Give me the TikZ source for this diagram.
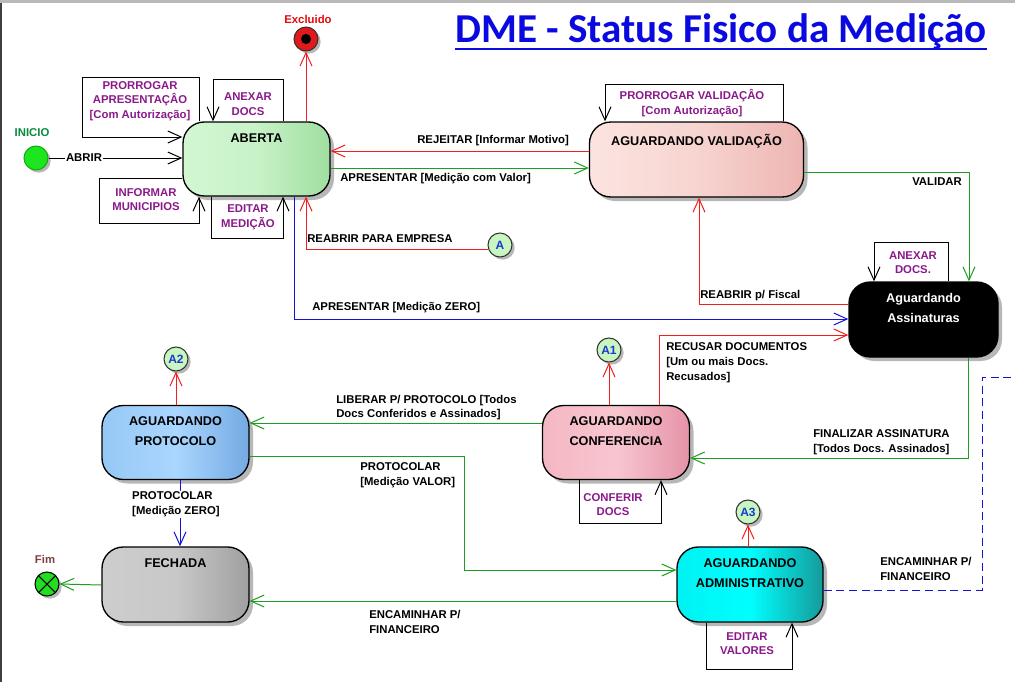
\documentclass[tikz,border=0pt]{standalone}
\usepackage{fontspec}
\setmainfont{Liberation Sans}
\newfontfamily\titlefont{Carlito}
\usetikzlibrary{arrows.meta,shadows,calc}
\definecolor{lgreen}{HTML}{1E9E1E}
\definecolor{lred}{HTML}{F21E1E}
\definecolor{lblue}{HTML}{1414D6}
\definecolor{purp}{HTML}{8A1A8A}
\definecolor{titleblue}{HTML}{0A0AE0}
\definecolor{cblue}{HTML}{1A3AD0}
\begin{document}
\begin{tikzpicture}[x=0.75pt,y=-0.75pt,
  tr/.style={-{Straight Barb[length=10pt,width=9pt]},line width=0.75pt},
  state/.style={draw=black,line width=1pt,rounded corners=16pt,inner sep=0pt,
    minimum width=110.25pt,minimum height=55.5pt,
    drop shadow={shadow xshift=3pt,shadow yshift=-3pt,fill=black!35,opacity=0.8}},
  stitle/.style={font=\fontsize{9.5}{15}\bfseries\selectfont,align=center,inner sep=0pt},
  lab/.style={font=\fontsize{8.5}{11}\bfseries\selectfont,inner sep=0pt,align=left},
  pl/.style={font=\fontsize{8.5}{11}\bfseries\selectfont,inner sep=0pt,align=center,text=purp},
  pseudo/.style={circle,draw=black!80,line width=0.8pt,minimum size=18pt,inner sep=0pt,
    drop shadow={shadow xshift=2pt,shadow yshift=-2pt,fill=black!35,opacity=0.8}},
  conn/.style={pseudo,fill={rgb,255:red,200;green,245;blue,192},
    font=\fontsize{9}{10}\bfseries\selectfont,text=cblue}]
\useasboundingbox (0,0) rectangle (1015,682);
\fill[white] (0,0) rectangle (1015,682);
\fill[gray!55] (0,0) rectangle (1015,3);
\draw[black!75,line width=1.2pt] (1,3) -- (1,682);

% title
\node[anchor=base west,inner sep=0pt,text=titleblue,font=\titlefont\fontsize{30.8}{36}\bfseries\selectfont] (title) at (455,42) {DME - Status Fisico da Medição};
\draw[titleblue,line width=1.6pt] (title.west |- 0,49) -- (title.east |- 0,49);

% states
\node[state,left color={rgb,255:red,210;green,247;blue,210},right color={rgb,255:red,160;green,222;blue,160},middle color={rgb,255:red,200;green,242;blue,200},
  label={[stitle,anchor=north,yshift=-9.5pt]north:ABERTA}] (aberta) at (256.5,159) {};
\node[state,minimum width=160.5pt,minimum height=56.25pt,left color={rgb,255:red,252;green,228;blue,225},right color={rgb,255:red,237;green,181;blue,178},middle color={rgb,255:red,247;green,212;blue,208},
  label={[stitle,anchor=north,yshift=-9.5pt]north:AGUARDANDO VALIDAÇÃO}] (val) at (696.5,159.5) {};
\node[state,minimum width=111.75pt,minimum height=56.25pt,fill=black,
  label={[stitle,text=white,anchor=north,yshift=-8.5pt]north:Aguardando\\Assinaturas}] (assin) at (923.5,319.5) {};
\node[state,left color={rgb,255:red,150;green,200;blue,245},right color={rgb,255:red,116;green,170;blue,226},middle color={rgb,255:red,170;green,214;blue,255},
  label={[stitle,anchor=north,yshift=-9pt]north:AGUARDANDO\\PROTOCOLO}] (prot) at (175.5,442.5) {};
\node[state,left color={rgb,255:red,244;green,183;blue,194},right color={rgb,255:red,229;green,147;blue,166},middle color={rgb,255:red,248;green,198;blue,208},
  label={[stitle,anchor=north,yshift=-9pt]north:AGUARDANDO\\CONFERENCIA}] (conf) at (616,442.5) {};
\node[state,minimum height=56.25pt,left color={rgb,255:red,205;green,205;blue,205},right color={rgb,255:red,160;green,160;blue,160},middle color={rgb,255:red,200;green,200;blue,200},
  label={[stitle,anchor=north,yshift=-9pt]north:FECHADA}] (fech) at (175.5,584.5) {};
\node[state,minimum width=109.5pt,minimum height=56.25pt,left color={rgb,255:red,0;green,242;blue,242},right color={rgb,255:red,22;green,154;blue,154},middle color={rgb,255:red,0;green,255;blue,255},
  label={[stitle,anchor=north,yshift=-9pt]north:AGUARDANDO\\ADMINISTRATIVO}] (adm) at (750,584.5) {};

% pseudo states
\node[pseudo,fill={rgb,255:red,30;green,230;blue,30},draw={rgb,255:red,20;green,170;blue,20}] (inicio) at (36,158) {};
\node[font=\fontsize{8.5}{10}\bfseries\selectfont,text={rgb,255:red,10;green,138;blue,60},inner sep=0pt] (linicio) at (32,133) {INICIO};
\node[pseudo,fill={rgb,255:red,225;green,25;blue,25}] (excl) at (306,39) {};
\fill[black] (excl.center) circle[radius=3.8pt];
\node[font=\fontsize{8.5}{10}\bfseries\selectfont,text={rgb,255:red,230;green,10;blue,10},inner sep=0pt] (lexcl) at (308,19) {Excluido};
\node[pseudo,fill={rgb,255:red,34;green,221;blue,34},draw=black] (fim) at (47,584) {};
\draw[black,line width=0.8pt] (fim.north west) -- (fim.south east) (fim.north east) -- (fim.south west);
\node[font=\fontsize{8.5}{10}\bfseries\selectfont,text={rgb,255:red,128;green,64;blue,64},inner sep=0pt] (lfim) at (45,559) {Fim};

\node[conn] (cA) at (500,245) {A};
\node[conn] (cA2) at (176,359) {A2};
\node[conn] (cA1) at (609,350) {A1};
\node[conn] (cA3) at (748,512) {A3};

% self loops
\draw[tr] (aberta.north -| 199,0) |- (82,77) |- (aberta.west |- 0,137);
\node[pl] (pProrA) at (140,101) {PRORROGAR\\APRESENTAÇÂO\\{}[Com Autorização]};
\draw[tr] (aberta.north -| 283,0) |- (213,79) -- (aberta.north -| 213,0);
\node[pl] (pAnexA) at (248,104) {ANEXAR\\DOCS};
\draw[tr] (aberta.west |- 0,178) -| (99,223) -| (aberta.south -| 199,0);
\node[pl] (pInf) at (146,199.5) {INFORMAR\\MUNICIPIOS};
\draw[tr] (aberta.south -| 211,0) |- (283,238) -- (aberta.south -| 283,0);
\node[pl] (pEdM) at (248,217) {EDITAR\\MEDIÇÃO};
\draw[tr] (val.north -| 783,0) |- (605,84) -- (val.north -| 605,0);
\node[pl] (pProrV) at (692,103) {PRORROGAR VALIDAÇÂO\\{}[Com Autorização]};
\draw[tr] (assin.north -| 948,0) |- (874,242) -- (assin.north -| 874,0);
\node[pl] (pAnexS) at (913,262.5) {ANEXAR\\DOCS.};
\draw[tr] (conf.south -| 579,0) |- (661,523) -- (conf.south -| 661,0);
\node[pl] (pConf) at (613,504.5) {CONFERIR\\DOCS};
\draw[tr] (adm.south -| 706,0) |- (792,669) -- (adm.south -| 792,0);
\node[pl] (pEdV) at (747,643.5) {EDITAR\\VALORES};

% transitions
\draw[tr] (inicio.east) -- (aberta.west |- inicio.east);
\node[lab,fill=white,inner sep=1pt] (lAbrir) at (84,158) {ABRIR};
\draw[tr,lred] (aberta.north -| excl) -- (excl.south);
\draw[tr,lred] (val.west |- 0,151) -- (aberta.east |- 0,151);
\node[lab,anchor=west] (lRej) at (417,141) {REJEITAR [Informar Motivo]};
\draw[tr,lgreen] (aberta.east |- 0,168) -- (val.west |- 0,168);
\node[lab,anchor=west] (lApV) at (340,178.5) {APRESENTAR [Medição com Valor]};
\draw[tr,lgreen] (val.east |- 0,172) -| (assin.north -| 969,0);
\node[lab,anchor=west] (lVal) at (912,182) {VALIDAR};
\draw[tr,lred] (cA.200) -| (aberta.south -| 306,0);
\node[lab,anchor=west] (lReE) at (307,239) {REABRIR PARA EMPRESA};
\draw[tr,lblue] (aberta.south -| 294,0) |- (assin.west |- 0,319);
\node[lab,anchor=west] (lApZ) at (312,308) {APRESENTAR [Medição ZERO]};
\draw[tr,lred] (assin.west |- 0,304) -| (val.south -| 699,0);
\node[lab,anchor=west] (lReF) at (700,295.5) {REABRIR p/ Fiscal};
\draw[tr,lred] (conf.north -| 659,0) |- (assin.west |- 0,335);
\node[lab,anchor=west,font=\fontsize{8.5}{11.25}\bfseries\selectfont] (lRec) at (666,363) {RECUSAR DOCUMENTOS\\{}[Um ou mais Docs.\\Recusados]};
\draw[tr,lgreen] (assin.south -| 968,0) |- (conf.east |- 0,458);
\node[lab,anchor=west,font=\fontsize{8.5}{11.25}\bfseries\selectfont] (lFin) at (813,442.5) {FINALIZAR ASSINATURA\\{}[Todos Docs. Assinados]};
\draw[tr,lgreen] (conf.west |- 0,423) -- (prot.east |- 0,423);
\node[lab,anchor=west,font=\fontsize{8.5}{10.5}\bfseries\selectfont] (lLib) at (336,407.5) {LIBERAR P/ PROTOCOLO [Todos\\Docs Conferidos e Assinados]};
\draw[tr,lred] (conf.north -| cA1) -- (cA1.south);
\draw[tr,lred] (prot.north -| cA2) -- (cA2.south);
\draw[tr,lred] (adm.north -| cA3) -- (cA3.south);
\draw[tr,lblue] (prot.south -| 180,0) -- (fech.north -| 180,0);
\node[lab,fill=white,align=left,inner sep=1pt,font=\fontsize{8.5}{11.25}\bfseries\selectfont] (lPZ) at (176,504.5) {PROTOCOLAR\\{}[Medição ZERO]};
\draw[tr,lgreen] (prot.east |- 0,456) -| (464,570) -- (adm.west |- 0,570);
\node[lab,anchor=west,font=\fontsize{8.5}{11.25}\bfseries\selectfont] (lPV) at (360,475.5) {PROTOCOLAR\\{}[Medição VALOR]};
\draw[tr,lgreen] (adm.west |- 0,601) -- (fech.east |- 0,601);
\node[lab,anchor=west,font=\fontsize{8.5}{11.25}\bfseries\selectfont] (lEnc1) at (369,622) {ENCAMINHAR P/\\FINANCEIRO};
\coordinate (offR) at (1015,377);
\draw[lblue,line width=0.75pt,dash pattern=on 6pt off 3.5pt] (adm.east |- 0,590) -| (982,377) -- (offR);
\node[lab,anchor=west,font=\fontsize{8.5}{11.25}\bfseries\selectfont] (lEnc2) at (880,568.5) {ENCAMINHAR P/\\FINANCEIRO};
\draw[tr,lgreen] (fech.west |- 0,585) -- (fim.east);
\end{tikzpicture}
\end{document}
